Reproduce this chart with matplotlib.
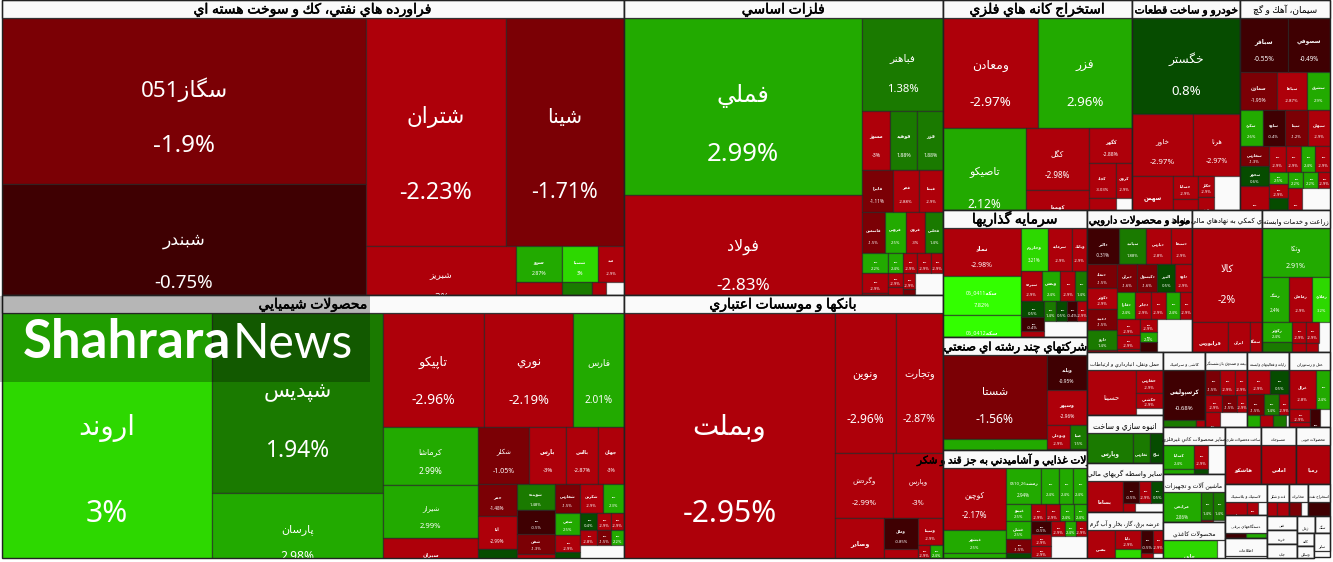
import re

import matplotlib
matplotlib.use("Agg")
from matplotlib import pyplot as plt
from matplotlib import patheffects
from matplotlib.patches import Rectangle

plt.rcParams["font.family"] = ["Noto Sans", "DejaVu Sans"]

# unreadable tiny ticker labels in the picture are kept as a dash
U = "ـــ"

# sector titles and their treemap weights
sector_titles = [
    "فراورده هاي نفتي، كك و سوخت هسته اي", "محصولات شيميايي",
    "فلزات اساسي", "بانکها و موسسات اعتباري",
    "استخراج کانه هاي فلزي", "خودرو و ساخت قطعات", "سيمان، آهك و گچ",
    "سرمايه گذاريها", "شرکتهاي چند رشته اي صنعتي",
    "محصولات غذايي و آشاميدني به جز قند و شكر",
    "مواد و محصولات دارويي", "فعاليتهاي كمكي به نهادهاي مالي واسط", "زراعت و خدمات وابسته",
    "حمل ونقل، انبارداري و ارتباطات", "انبوه سازي و ساخت",
    "ساير واسطه گريهاي مالي", "عرضه برق، گاز، بخار و آب گرم",
    "کاشي و سراميك", "بيمه و صندوق بازنشستگي", "رايانه و فعاليتهاي وابسته", "هتل و رستوران",
    "ساير محصولات كاني غيرفلزي", "ماشين آلات و تجهيزات", "محصولات كاغذي",
    "ساخت محصولات فلزي", "منسوجات", "محصولات چوبي",
    "لاستيك و پلاستيك", "دستگاههاي برقي", "اطلاعات",
    "قند و شكر", "مخابرات", "استخراج نفت",
    "فني", "خرده", "چاپ",
    "زغال", "سنگ", "كانه", "وسايل", "ساير",
]
sector_sizes = [
    183490, 163586, 94105, 83897,
    39690, 22680, 18900,
    18288, 16272, 15552,
    14910, 9940, 9656,
    4788, 3648, 3724, 3496,
    3150, 3150, 3150, 3075,
    2914, 2976, 2232,
    2052, 1995, 1938,
    1302, 966, 840,
    693, 627, 693,
    420, 420, 420,
    306, 270, 204, 204, 384,
]
# cells per strip of the top level squarified layout
sector_strips = [2, 2, 3, 3, 3, 4, 4, 3, 3, 3, 3, 3, 2, 2, 1]

naft_names = ["سگاز051", "شبندر", "شتران", "شينا", "شبريز", "سرو", U, "شسپا", "مبد"]
naft_pct = [-1.9, -0.75, -2.23, -1.71, -3, 2.87, -2.9, 3, -2.9, 1.9, -2.9]
naft_size = [60424, 46956, 31878, 27027, 10010, 1645, 1410, 1280, 920, 925, 450]
naft_strips = [2, 2, 1, 2, 2, 1, -1]

shimi_names = ["اروند", "شپديس", "پارسان", "تاپيكو", "نوري", "فارس", "كرماشا", "شيراز", "سپران",
               "شكلر", "بارس", "بالس", "جهان", "حمر", "آبا", "شلرد", "شوينده", U, "شفن", U, "شفارس",
               "شكربن", U, "شجي"]
shimi_pct = [3, 1.94, 2.98, -2.96, -2.19, 2.01, 2.99, 2.99, -2.9, -1.05, -3, -2.87, -3,
             -1.48, -2.99, 0.6, 1.48, -0.5, -1.3, -2.9, -1.5, -2.9, 2.3,
             2.5, -2.9, 0.5, 0.4, -2.9, -2.9, -2.8, -1.5, 2.2]
shimi_size = [55230, 30780, 14193, 11514, 10146, 5814, 5510, 5035, 3610,
              2900, 2146, 1798, 1508, 1248, 1248, 1053, 1014, 897, 780, 858,
              690, 660, 600, 572, 416, 598, 280, 240, 220, 252, 216, 198]
shimi_strips = [1, 2, 3, 3, 4, 3, 4, 3, 3, 3, 3]

felez_names = ["فملي", "فولاد", "فباهنر", "مسوژ", "فوهيد", "فزر", "فايرا", "فجر", "فپنتا",
               "فاسمين", "فروس", "فروي", "فخاس"]
felez_pct = [2.99, -2.83, 1.38, -3, 1.88, 1.88, -1.11, -2.88, -2.9, -1.5, 2.5, -3, 1.4,
             2.2, -2.9, -2.9, 2.4, -2.9, -2.9, -2.9, -2.9, -2.9, -2.9, -1.5]
felez_size = [42126, 28084, 7533, 1650, 1620, 1510, 1302, 1092, 1008, 943, 861, 779, 738,
              520, 520, 520, 300, 280, 280, 240, 210, 390, 196, 280]
felez_strips = [2, 1, 3, 3, 4, 3, 4, -2, -2]

bank_names = ["وبملت", "ونوين", "وتجارت", "وگردش", "وپارس", "وصادر", "وملل", "سامان", "وسينا"]
bank_pct = [-2.95, -2.96, -2.87, -2.99, -3, -2.87, -0.85, -2.9, -2.9, -2.9, 2.4]
bank_size = [55493, 8540, 6580, 3770, 3250, 2842, 1054, 918, 675, 168, 182]
bank_strips = [1, 2, 2, 1, 2, 1, 2]

kane_names = ["ومعادن", "فزر", "تاصيكو", "كگل", "كهمدا", "كگهر", "كچاد", "كروي", "كنور"]
kane_pct = [-2.97, 2.96, 2.12, -2.98, -2.9, -2.88, -3.03, -2.9, -2.9]
kane_size = [10450, 10340, 8300, 3906, 2394, 1505, 945, 560, 810]
kane_strips = [2, 1, 2, 1, 2, 1]

khodro_names = ["خگستر", "خاور", "هرنا", "سهمن", "خساپا", "خپارس", "خكار", "خزر"]
khodro_pct = [0.8, -2.97, -2.97, -2.88, -2.9, -2.9, -2.9, -2.9]
khodro_size = [10368, 3782, 2914, 2132, 575, 725, 336, 496]
khodro_strips = [1, 2, 1, 2, -2]

siman_names = ["سباقر", "سصوفي", "سمازن", "سپاها", "سشرق", "سكرد", "ساوه", "سيتا", "سبهان",
               "سفارس", "سخوز"]
siman_pct = [-0.55, -0.49, -1.95, -2.87, 2.9, 2.6, -0.4, -1.2, -2.9, -1.3, 0.6, -2.9,
             -2.9, -2.9, 2.4, -2.9, 2.5, -2.9, 0.5, 2.2, 2.2, -2.9, -2.9]
siman_size = [2592, 2268, 1406, 1102, 874, 814, 814, 814, 814, 580, 580, 1189,
              459, 378, 378, 378, 240, 280, 580, 238, 238, 187, 546]
siman_strips = [2, 3, 4, 3, 4, 3, 3, 1]

sarmaye_names = ["نماد", "سكه05_0411", "سكه05_0412", "وخارزم", "سرمايه", "وبانك", "سپرده", "وپخش"]
sarmaye_pct = [-2.98, 7.82, 6, 3.21, -2.9, -2.9, -2.9, 2.4, -2.9, 1.4, 0.5, -0.4, -2.9,
               1.4, 0.5, -0.4, -2.9]
sarmaye_size = [3744, 3042, 3120, 1161, 1032, 645, 630, 570, 450, 360, 368, 322, 552,
                228, 209, 190, 190]
sarmaye_strips = [3, 3, 4, 3, 4]

chand_names = ["شستا", "وبشهر", "وپلند", "وسپهر", "وبوعلي", "صبا", "سنا", "ورنا"]
chand_pct = [-1.56, 2.5, -0.95, -2.96, -2.9, 1.5, -2.9, 1.5]
chand_size = [8736, 3016, 1400, 1400, 552, 408, 437, 323]
chand_strips = [2, 1, 1, 2, 1, 1]

ghaza_names = ["كوچين", "غبشهر", "غگرجي", "رمشد0510_26", U, U, U, "غپينو", "غشان"]
ghaza_pct = [-2.17, 2.5, 2.9, 2.94, 2.4, 2.4, 2.4, 2.5, 2.5, -1.5, 0.5, -2.9, -2.9, 2.4, 2.4,
             -0.5, -2.9, -2.9, None, -2.9, 2.4, -2.9]
ghaza_size = [3906, 1449, 1449, 1260, 612, 504, 504, 442, 468, 338, 598, 252, 252, 252, 234,
              240, 240, 220, 380, 195, 165, 165]
ghaza_strips = [3, 4, 4, 4, 4, 3]

darou_names = ["دالبر", "سيانيد", "دپارس", "دسبحا", "دتماد", "دكوثر", "دعبيد", "دارو", "دلر",
               "ديران", "دكپسول", "البرز", "داوه", "دفارا", "دجابر"]
darou_pct = [-0.31, 1.88, -2.8, -2.9, -1.5, -2.9, -1.5, 1.4, -2.9, -1.6, -1.6, 0.5, -2.9,
             2.4, -2.9, -2.9, 2.4, -2.9, -2.9, -2.9, -2.9, -2.9, 2.4, -0.5]
darou_size = [1152, 972, 900, 756, 720, 630, 630, 600, 600, 560, 560, 504, 476,
              486, 432, 405, 378, 324, 368, 322, 483, 221, 170, 476]
darou_strips = [4, -5, 4, 5, 3, 3]

mali_names = ["كالا", "فرابورس", "ايران", "سمگا"]
mali_pct = [-2, -2.9, -2.9, -2.9]
mali_size = [6580, 1728, 1008, 576]
mali_strips = [1, 1, 2]

zeraat_names = ["وتكا", "زشگ", "زماهان", "زملارد", "زكوثر"]
zeraat_pct = [2.91, 2.4, -2.9, 3.2, 2.4, 1.4, -2.9, -2.9, None, -2.9, -2.9]
zeraat_size = [3332, 1196, 1058, 782, 600, 840, 294, 273, 231, 378, 351]
zeraat_strips = [1, 3, 2, 3, -1, -1]

haml_names = ["حسينا", "حفارس", "حكشتي"]
haml_pct = [-2.94, -2.9, -2.9]
haml_size = [3087, 621, 400]
haml_strips = [1, 1, 1]

sakht_names = ["وپارس", "ثفارس", "ثباغ"]
sakht_pct = [1.88, 1.4, 0.5]
sakht_size = [2208, 816, 624]
sakht_strips = [1, -1, -1]

vasete_names = ["بساما"]
vasete_pct = [-2.9, -0.5, -2.9, 0.5, -2.9]
vasete_size = [1764, 345, 276, 253, 338]
vasete_strips = [1, 3, -1]

bargh_names = ["بمس", "تابا", "بجهرم"]
bargh_pct = [-3.7, -2.9, 3.2, -0.5, -2.9, -2.9]
bargh_size = [1288, 494, 702, 276, 230, 276]
bargh_strips = [1, 2, 2, -1]

kashi_names = ["كرسپوليس"]
kashi_pct = [-0.68, 1.5, -2.9]
kashi_size = [2100, 825, 275]
kashi_strips = [1, -1, -1]

bime_names = []
bime_pct = [-1.5, -2.9, -2.9, -2.9, -1.5, -2.9, -2.9]
bime_size = [390, 364, 312, 289, 238, 170, 480]
bime_strips = [3, 3, 1]

rayane_names = []
rayane_pct = [-2.9, 0.5, -1.5, 1.4, -2.9, 2.4, -2.9, 1.4]
rayane_size = [550, 475, 352, 308, 220, 392, 392, 364]
rayane_strips = [2, 3, -1, -1, -1]

hotel_names = ["غزال"]
hotel_pct = [-2.8, 2.4, -2.9, -2.9, -0.5]
hotel_size = [1040, 560, 286, 484, 350]
hotel_strips = [2, 2, -1]

kani_names = ["كساپا"]
kani_pct = [2.4, 2.4, -2.9, 0.5]
kani_size = [744, 713, 336, 322]
kani_strips = [2, -2]

mashin_names = ["مرابحي"]
mashin_pct = [2.86, -2.9, 1.4, 1.4, -2.9]
mashin_size = [1254, 570, 336, 336, 240]
mashin_strips = [-2, 2, 1]

kaghaz_names = ["چاپي"]
kaghaz_pct = [3.2]
kaghaz_size = [1944]
kaghaz_strips = [-1]

felezi_names, felezi_pct, felezi_size, felezi_strips = ["هاشكو"], [-2.86], [2052], [1]
nasaji_names, nasaji_pct, nasaji_size, nasaji_strips = ["اماس"], [-2.83], [1995], [1]
choob_names, choob_pct, choob_size, choob_strips = ["رميا"], [-2.84], [1938], [1]
lastik_names, lastik_pct, lastik_size, lastik_strips = ["پتاير"], [-2.9, -2.9, None], [682, 220, 180], [-1, 2]
bargh2_names, bargh2_pct, bargh2_size, bargh2_strips = [], [-0.5, 2.4], [483, 460], [-1, -1]
ghand_names, ghand_pct, ghand_size, ghand_strips = [], [-2.9, -2.9], [330, 363], [2]
mokh_names, mokh_pct, mokh_size, mokh_strips = [], [-1.5], [396], [-1]
naft2_names, naft2_pct, naft2_size, naft2_strips = [], [-0.5], [693], [-1]

# the small sectors at the end carry no visible cells
sector_cells = [
    (naft_names, naft_pct, naft_size, naft_strips),
    (shimi_names, shimi_pct, shimi_size, shimi_strips),
    (felez_names, felez_pct, felez_size, felez_strips),
    (bank_names, bank_pct, bank_size, bank_strips),
    (kane_names, kane_pct, kane_size, kane_strips),
    (khodro_names, khodro_pct, khodro_size, khodro_strips),
    (siman_names, siman_pct, siman_size, siman_strips),
    (sarmaye_names, sarmaye_pct, sarmaye_size, sarmaye_strips),
    (chand_names, chand_pct, chand_size, chand_strips),
    (ghaza_names, ghaza_pct, ghaza_size, ghaza_strips),
    (darou_names, darou_pct, darou_size, darou_strips),
    (mali_names, mali_pct, mali_size, mali_strips),
    (zeraat_names, zeraat_pct, zeraat_size, zeraat_strips),
    (haml_names, haml_pct, haml_size, haml_strips),
    (sakht_names, sakht_pct, sakht_size, sakht_strips),
    (vasete_names, vasete_pct, vasete_size, vasete_strips),
    (bargh_names, bargh_pct, bargh_size, bargh_strips),
    (kashi_names, kashi_pct, kashi_size, kashi_strips),
    (bime_names, bime_pct, bime_size, bime_strips),
    (rayane_names, rayane_pct, rayane_size, rayane_strips),
    (hotel_names, hotel_pct, hotel_size, hotel_strips),
    (kani_names, kani_pct, kani_size, kani_strips),
    (mashin_names, mashin_pct, mashin_size, mashin_strips),
    (kaghaz_names, kaghaz_pct, kaghaz_size, kaghaz_strips),
    (felezi_names, felezi_pct, felezi_size, felezi_strips),
    (nasaji_names, nasaji_pct, nasaji_size, nasaji_strips),
    (choob_names, choob_pct, choob_size, choob_strips),
    (lastik_names, lastik_pct, lastik_size, lastik_strips),
    (bargh2_names, bargh2_pct, bargh2_size, bargh2_strips),
    ([], [], [], []),
    (ghand_names, ghand_pct, ghand_size, ghand_strips),
    (mokh_names, mokh_pct, mokh_size, mokh_strips),
    (naft2_names, naft2_pct, naft2_size, naft2_strips),
]

# these two titles are too long for their bar and run past it in the picture
overflow_title_px = {9: 10.5, 11: 7}

# Arabic letters -> first code point of their presentation forms
DUAL = {"ب": 0xFE8F, "ت": 0xFE95, "ث": 0xFE99, "ج": 0xFE9D, "ح": 0xFEA1, "خ": 0xFEA5,
        "س": 0xFEB1, "ش": 0xFEB5, "ص": 0xFEB9, "ض": 0xFEBD, "ط": 0xFEC1, "ظ": 0xFEC5,
        "ع": 0xFEC9, "غ": 0xFECD, "ف": 0xFED1, "ق": 0xFED5, "ك": 0xFED9, "ل": 0xFEDD,
        "م": 0xFEE1, "ن": 0xFEE5, "ه": 0xFEE9, "ي": 0xFEF1, "ئ": 0xFE89, "پ": 0xFB56,
        "چ": 0xFB7A, "ک": 0xFB8E, "گ": 0xFB92, "ی": 0xFBFC}
RIGHT = {"ا": 0xFE8D, "آ": 0xFE81, "أ": 0xFE83, "إ": 0xFE87, "ؤ": 0xFE85, "د": 0xFEA9,
         "ذ": 0xFEAB, "ر": 0xFEAD, "ز": 0xFEAF, "و": 0xFEED, "ژ": 0xFB8A, "ة": 0xFE93}
KASHIDA = "ـ"


def shape_run(run):
    out = []
    i = 0
    while i < len(run):
        c = run[i]
        prev = run[i - 1] if i > 0 else ""
        nxt = run[i + 1] if i + 1 < len(run) else ""
        joined_before = prev in DUAL or prev == KASHIDA
        joined_after = nxt in DUAL or nxt in RIGHT or nxt == KASHIDA
        if c == "ل" and nxt == "ا":
            out.append(chr(0xFEFC if joined_before else 0xFEFB))
            i += 2
            continue
        if c in DUAL:
            form = (3 if joined_after else 1) if joined_before else (2 if joined_after else 0)
            out.append(chr(DUAL[c] + form))
        elif c in RIGHT:
            out.append(chr(RIGHT[c] + (1 if joined_before else 0)))
        else:
            out.append(c)
        i += 1
    return "".join(reversed(out))


def shape(text):
    # matplotlib has no bidi or shaping, so build the visual order here
    runs = re.findall(r"[0-9A-Za-z_.]+|[^0-9A-Za-z_.]+", text)
    return "".join(r if re.match(r"[0-9A-Za-z_.]", r) else shape_run(r) for r in reversed(runs))


def strip_layout(x, y, w, h, sizes, strips):
    # squarified style strips: along the shorter side unless the count is negative
    rects = []
    i = 0
    for n in strips:
        group = sizes[i:i + abs(n)]
        i += abs(n)
        total = sum(group)
        if n < 0 or w >= h:
            cw = total / h
            yy = y
            for s in group:
                rects.append((x, yy, cw, s / cw))
                yy += s / cw
            x += cw
            w -= cw
        else:
            rh = total / w
            xx = x
            for s in group:
                rects.append((xx, y, s / rh, rh))
                xx += s / rh
            y += rh
            h -= rh
    return rects


def cell_color(p):
    if p <= -2:
        return "#AE000A"
    if p <= -1:
        return "#7B0005"
    if p < 0:
        return "#3F0002"
    if p < 1:
        return "#064C00"
    if p < 2:
        return "#1A7A00"
    if p < 3:
        return "#22AA00"
    if p < 5:
        return "#2DD800"
    return "#33FF00"


DPI = 100
HEADER = 18
fig = plt.figure(figsize=(13.33, 5.62), dpi=DPI)
ax = fig.add_axes([0, 0, 1, 1])
ax.set_xlim(0, 1333)
ax.set_ylim(562, 0)
ax.axis("off")

sector_rects = strip_layout(2, 0, 1328, 558, sector_sizes, sector_strips)

for idx, (sx, sy, sw, sh) in enumerate(sector_rects):
    z = 10 + idx
    clip = Rectangle((sx, sy), sw, sh, facecolor="#FAFAFA", edgecolor="none", zorder=z)
    ax.add_patch(clip)
    if idx < len(sector_cells):
        names, pct, size, strips = sector_cells[idx]
        cells = strip_layout(sx, sy + HEADER, sw, sh, size, strips)
        for k, (cx, cy, cw, ch) in enumerate(cells):
            p = pct[k]
            if p is None:
                continue
            r = Rectangle((cx, cy), cw, ch, facecolor=cell_color(p),
                          edgecolor=(0.13, 0.13, 0.13, 0.6), linewidth=0.9, zorder=z)
            ax.add_patch(r)
            r.set_clip_path(clip)
            font_px = max(4.2, min(0.13 * (cw * ch) ** 0.5, 0.145 * ch, 30))
            font_pt = font_px * 72 / DPI
            weight = "bold" if font_px < 7 else "normal"
            label = shape(names[k] if k < len(names) else U)
            t1 = ax.text(cx + cw / 2, cy + 0.43 * ch + 0.3 * font_px, label, color="white",
                         ha="center", va="baseline", fontsize=0.93 * font_pt, fontweight=weight,
                         zorder=z, clip_on=True)
            t2 = ax.text(cx + cw / 2, cy + 0.755 * ch + 0.36 * font_px, f"{p:g}%", color="white",
                         ha="center", va="baseline", fontsize=font_pt, fontweight=weight,
                         zorder=z, clip_on=True)
            t1.set_clip_path(clip)
            t2.set_clip_path(clip)
    # title bar: long titles run over the neighbour on the left, the next sector covers the right
    bar = min(HEADER, sh)
    ax.add_patch(Rectangle((sx, sy), sw, bar, facecolor="#FAFAFA", edgecolor="#333333",
                           linewidth=0.9, zorder=z))
    title = sector_titles[idx]
    head_px = overflow_title_px.get(idx, max(3.6, min(14, 0.1 * sw, 2.05 * sw / len(title))))
    head = ax.text(sx + sw / 2, sy + min(13.5, bar - 3), shape(title), color="black", ha="center",
                   va="baseline", fontsize=head_px * 72 / DPI, zorder=z)
    if head_px > 9:
        head.set_path_effects([patheffects.withStroke(linewidth=0.35, foreground="black")])
    ax.add_patch(Rectangle((sx, sy), sw, sh, facecolor="none", edgecolor="#222222",
                           linewidth=1.0, zorder=z))

# site watermark over the chart
ax.add_patch(Rectangle((0, 296), 370, 86, facecolor="black", alpha=0.27, edgecolor="none", zorder=900))
ax.text(231, 358, "Shahrara", color="white", ha="right", va="baseline", fontsize=38,
        family="Lato", fontweight="bold", zorder=901)
ax.text(233, 358, "News", color="white", ha="left", va="baseline", fontsize=34.5,
        family="Lato", fontweight="normal", zorder=901)

fig.savefig("out.png", dpi=DPI)
